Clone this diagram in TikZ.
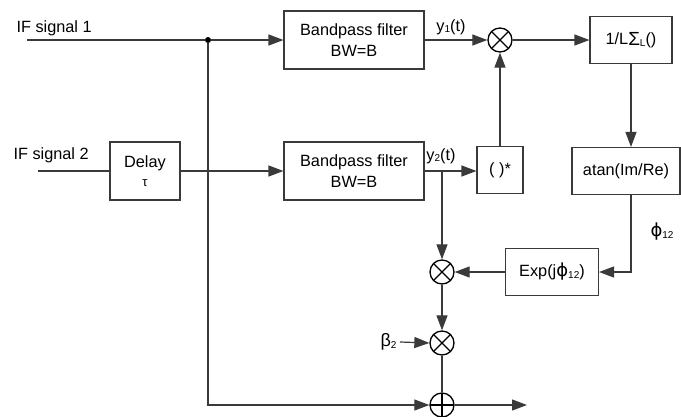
\documentclass[tikz,border=0pt]{standalone}
\usepackage{fontspec}
\setmainfont{Liberation Sans}
\newfontfamily\greekfont{DejaVu Sans}
\usetikzlibrary{arrows.meta, positioning, calc}
\definecolor{wire}{HTML}{3A3A3A}
\newcommand{\lowsub}[1]{\raisebox{-0.2ex}{\fontsize{10}{10}\selectfont #1}}
\newcommand{\phisym}{{\greekfont\fontsize{18}{18}\selectfont ϕ}}

\begin{document}
\begin{tikzpicture}[x=1pt, y=-1pt, >=Latex, font=\fontsize{16.3}{21}\selectfont]
    \tikzstyle{blockbox} = [rectangle, draw=wire, line width=1.1pt, align=center, inner sep=0pt]
    \tikzstyle{mixer} = [circle, draw, line width=1.3pt, minimum size=24pt, inner sep=0pt,
        path picture={\draw[line width=1.2pt] (path picture bounding box.south west) -- (path picture bounding box.north east)
                      (path picture bounding box.north west) -- (path picture bounding box.south east);}]
    \tikzstyle{summer} = [circle, draw, line width=1.3pt, minimum size=24pt, inner sep=0pt,
        path picture={\draw[line width=1.2pt] (path picture bounding box.north) -- (path picture bounding box.south)
                      (path picture bounding box.west) -- (path picture bounding box.east);}]
    \tikzstyle{wireline} = [draw=wire, line width=1.2pt]
    \tikzstyle{sig} = [wireline, -{Triangle[length=15pt, width=11pt]}]

    \useasboundingbox (0,0) rectangle (681,416);

    % inputs
    \node [anchor=west] (lab1) at (13,28) {IF signal 1};
    \node [anchor=west] (lab2) at (10,155) {IF signal 2};
    \coordinate (in1) at (27,40);
    \coordinate (in2) at (38,171);
    \node [circle, fill=black, inner sep=0pt, minimum size=6pt] (tap) at (208,40) {};

    % blocks
    \node [blockbox, minimum width=70pt, minimum height=58pt] (delay) at (145,171) {Delay\\[-2pt]{\fontsize{13}{13}\selectfont τ}};
    \node [blockbox, minimum width=140pt, minimum height=58pt] (bp1) at (354,40) {Bandpass filter\\BW=B};
    \node [blockbox, minimum width=140pt, minimum height=58pt] (bp2) at (354,171) {Bandpass filter\\BW=B};
    \node [mixer] (mul1) at (500,40) {};
    \node [blockbox, minimum width=82pt, minimum height=47pt] (avg) at (631,40) {1/L\raisebox{-0.1ex}{\fontsize{19}{19}\selectfont Σ}\lowsub{L}()};
    \node [blockbox, minimum width=46pt, minimum height=47pt] (conj) at (500,170) {( )*};
    \node [blockbox, minimum width=108pt, minimum height=47pt] (atan) at (626,171) {atan(Im/Re)};
    \node [blockbox, minimum width=93pt, minimum height=47pt] (exp) at (552,272) {Exp(j\phisym\lowsub{12})};
    \node [mixer] (mul2) at (442,272) {};
    \node [mixer] (mul3) at (442,343) {};
    \node [summer] (add) at (442,405) {};

    % labels
    \node (y1) at (451,27) {y\lowsub{1}(t)};
    \node (y2) at (441,156) {y\lowsub{2}(t)};
    \node (phi) at (662,232) {\phisym\lowsub{12}};
    \node [anchor=east] (beta) at (400,342) {{\fontsize{18}{18}\selectfont β}\lowsub{2}};

    \coordinate (br) at (442,171);
    \coordinate (bend) at (631,272);
    \coordinate (out) at (527,405);

    % connectors
    \path [wireline] (in1) -- (tap);
    \path [sig] (tap) -- (bp1.west);
    \path [sig] (bp1.east) -- (mul1.west);
    \path [sig] (mul1.east) -- (avg.west);
    \path [sig] (avg.south) -- (avg.south |- atan.north);
    \path [wireline] (in2) -- (delay.west);
    \path [sig] (delay.east) -- (bp2.west);
    \path [sig] (bp2.east) -- (conj.west |- bp2.east);
    \path [sig] (conj.north) -- (mul1.south);
    \path [sig] (br) -- (mul2.north);
    \path [sig] (bend |- atan.south) -- (bend) -- (exp.east);
    \path [sig] (exp.west) -- (mul2.east);
    \path [sig] (mul2.south) -- (mul3.north);
    \path [sig] (beta.east) -- (mul3.west);
    \path [wireline] (mul3.south) -- (add.north);
    \path [sig] (tap) -- (tap |- add) -- (add.west);
    \path [sig] (add.east) -- (out);
\end{tikzpicture}
\end{document}
